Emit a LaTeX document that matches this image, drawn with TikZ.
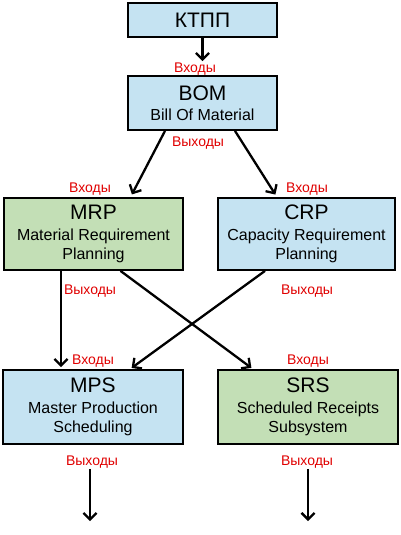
\documentclass[tikz,border=0pt]{standalone}
\usepackage{fontspec}
\setmainfont{Liberation Sans}
\usepackage{xcolor}
\usetikzlibrary{arrows.meta,positioning}
\definecolor{boxblue}{HTML}{C5E3F2}
\definecolor{boxgreen}{HTML}{C3DFB6}
\definecolor{lblred}{HTML}{E00000}
\newcommand{\btitle}[1]{{\fontsize{21}{23}\selectfont #1}}

\begin{document}
\begin{tikzpicture}[x=1pt, y=-1pt,
    block/.style={draw, line width=1.8pt, align=center, inner sep=0pt,
                  font=\fontsize{16}{19.5}\selectfont},
    arrow/.style={-{Straight Barb[length=6.5pt,width=13pt]}, line width=2.3pt},
    lbl/.style={text=lblred, font=\fontsize{14}{16}\selectfont, inner sep=1pt}
]
\useasboundingbox (0,0) rectangle (401,535);

\node[block, fill=boxblue, minimum width=149pt, minimum height=34pt] (ktpp) at (202.5,20) {\btitle{КТПП}};
\node[block, fill=boxblue, minimum width=149pt, minimum height=54pt] (bom) at (202.5,103) {\btitle{BOM}\\[1pt] Bill Of Material};
\node[block, fill=boxgreen, minimum width=179pt, minimum height=72pt] (mrp) at (93.5,234) {\btitle{MRP}\\[1pt] Material Requirement\\ Planning};
\node[block, fill=boxblue, minimum width=177pt, minimum height=72pt] (crp) at (306.5,234) {\btitle{CRP}\\[1pt] Capacity Requirement\\ Planning};
\node[block, fill=boxblue, minimum width=180pt, minimum height=74pt] (mps) at (93,407) {\btitle{MPS}\\[1pt] Master Production\\ Scheduling};
\node[block, fill=boxgreen, minimum width=180pt, minimum height=74pt] (srs) at (308,407) {\btitle{SRS}\\[1pt] Scheduled Receipts\\ Subsystem};

% labels
\node[lbl] (in1) at (195,69) {Входы};
\node[lbl] (out1) at (198,143) {Выходы};
\node[lbl] (in2) at (90,189) {Входы};
\node[lbl] (in3) at (307,189) {Входы};
\node[lbl] (out2) at (90,291) {Выходы};
\node[lbl] (out3) at (307,291) {Выходы};
\node[lbl] (in4) at (93,361) {Входы};
\node[lbl] (in5) at (308,361) {Входы};
\node[lbl] (out4) at (92,462) {Выходы};
\node[lbl] (out5) at (307,462) {Выходы};

\coordinate (endA) at (90,521);
\coordinate (endB) at (308,521);

% connectors
\draw[arrow, shorten >=14pt] (ktpp) -- (bom);
\draw[arrow, shorten >=3pt] ([xshift=-37.5pt]bom.south) -- ([xshift=37pt]mrp.north);
\draw[arrow, shorten >=3pt] ([xshift=32.5pt]bom.south) -- ([xshift=-29.5pt]crp.north);
\draw[arrow, shorten >=2pt] ([xshift=-32.5pt]mrp.south) -- ([xshift=-32pt]mps.north);
\draw[arrow, shorten >=2pt] ([xshift=27pt]mrp.south) -- ([xshift=-55pt]srs.north);
\draw[arrow, shorten >=2pt] ([xshift=-41.5pt]crp.south) -- ([xshift=37pt]mps.north);
\draw[arrow, shorten <=24pt] ([xshift=-3pt]mps.south) -- (endA);
\draw[arrow, shorten <=24pt] (srs.south) -- (endB);
\end{tikzpicture}
\end{document}
